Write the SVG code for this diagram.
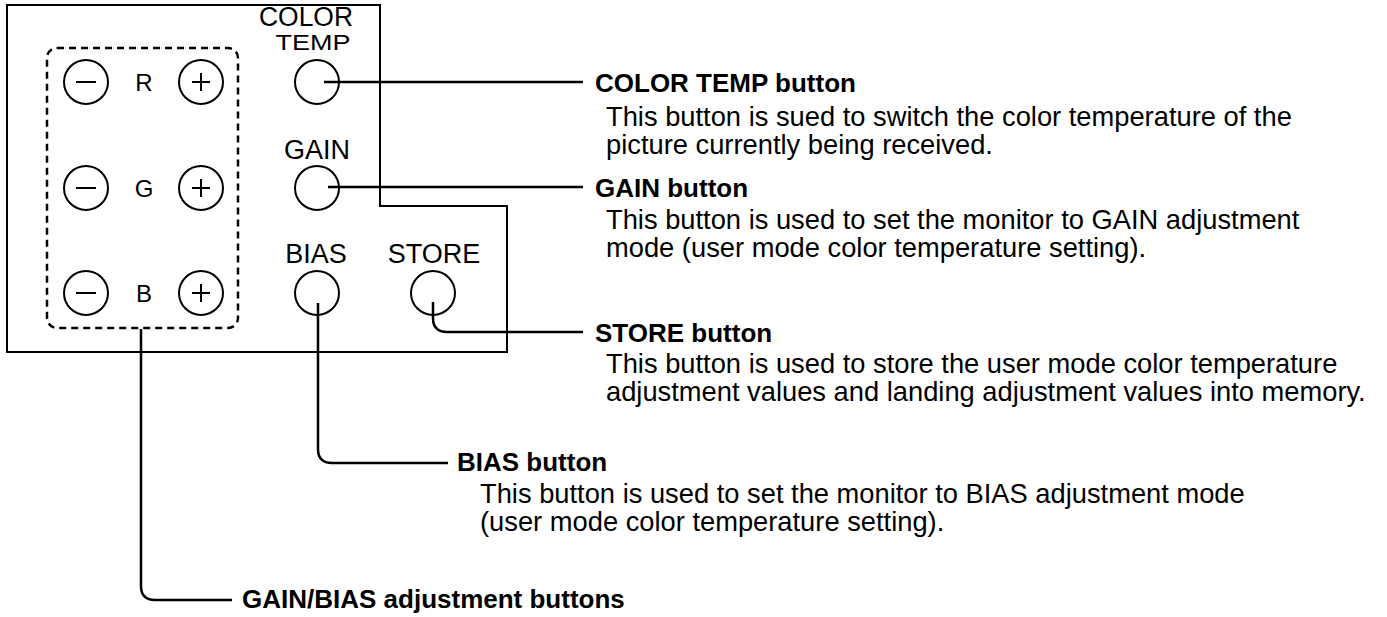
<svg xmlns="http://www.w3.org/2000/svg" width="1387" height="617" viewBox="0 0 1387 617">
<style>
.bg{fill:#fff}
.ln{fill:none;stroke:#000;stroke-width:2}
.cn{fill:none;stroke:#000;stroke-width:2.5}
.btn{fill:none;stroke:#000;stroke-width:2}
.dash{fill:none;stroke:#000;stroke-width:2.5;stroke-dasharray:7 5}
.lbl{font-family:"Liberation Sans",Arial,sans-serif;font-size:27px;fill:#000;text-anchor:middle}
.rgb{font-family:"Liberation Sans",Arial,sans-serif;font-size:24px;fill:#000;text-anchor:middle}
.ttl{font-family:"Liberation Sans",Arial,sans-serif;font-size:26px;font-weight:bold;fill:#000}
.bdy{font-family:"Liberation Sans",Arial,sans-serif;font-size:27.3px;fill:#000}
</style>
<rect class="bg" x="0" y="0" width="1387" height="617"/>

<g id="panel">
<path class="ln" d="M7,5 H380 V206 H507 V352 H7 Z"/>
</g>

<g id="rgb-group">
<rect class="dash" x="47" y="48" width="191" height="280" rx="10" ry="10"/>
<g id="r-row">
<circle class="btn" cx="86" cy="82" r="22"/>
<line class="btn" x1="76" y1="82" x2="96" y2="82"/>
<text class="rgb" x="144" y="91">R</text>
<circle class="btn" cx="201" cy="82" r="22"/>
<line class="btn" x1="192" y1="82" x2="210" y2="82"/>
<line class="btn" x1="201" y1="73" x2="201" y2="91"/>
</g>
<g id="g-row">
<circle class="btn" cx="86" cy="188" r="22"/>
<line class="btn" x1="76" y1="188" x2="96" y2="188"/>
<text class="rgb" x="144" y="197">G</text>
<circle class="btn" cx="201" cy="188" r="22"/>
<line class="btn" x1="192" y1="188" x2="210" y2="188"/>
<line class="btn" x1="201" y1="179" x2="201" y2="197"/>
</g>
<g id="b-row">
<circle class="btn" cx="86" cy="293" r="22"/>
<line class="btn" x1="76" y1="293" x2="96" y2="293"/>
<text class="rgb" x="144" y="302">B</text>
<circle class="btn" cx="201" cy="293" r="22"/>
<line class="btn" x1="192" y1="293" x2="210" y2="293"/>
<line class="btn" x1="201" y1="284" x2="201" y2="302"/>
</g>
</g>

<g id="color-temp">
<text class="lbl" x="306" y="26" font-size="25" textLength="94" lengthAdjust="spacingAndGlyphs">COLOR</text>
<text class="lbl" transform="translate(313,49.5) scale(1,0.8)" x="0" y="0" font-size="25">TEMP</text>
<circle class="btn" cx="317" cy="82" r="22"/>
</g>
<g id="gain">
<text class="lbl" x="317" y="159">GAIN</text>
<circle class="btn" cx="317" cy="188" r="22"/>
</g>
<g id="bias">
<text class="lbl" x="316" y="263">BIAS</text>
<circle class="btn" cx="317" cy="293" r="22"/>
</g>
<g id="store">
<text class="lbl" x="434" y="263">STORE</text>
<circle class="btn" cx="433" cy="293" r="22"/>
</g>

<g id="connectors">
<path class="cn" d="M324,82 H583"/>
<path class="cn" d="M328,187 H583"/>
<path class="cn" d="M433,302 V318 Q433,332 447,332 H583"/>
<path class="cn" d="M318,303 V449 Q318,463 332,463 H448"/>
<path class="cn" d="M141,329 V586 Q141,600 155,600 H232"/>
</g>

<g id="desc-color-temp">
<text class="ttl" x="595" y="92">COLOR TEMP button</text>
<text class="bdy" x="606" y="126">This button is sued to switch the color temperature of the</text>
<text class="bdy" x="606" y="154">picture currently being received.</text>
</g>
<g id="desc-gain">
<text class="ttl" x="595" y="197">GAIN button</text>
<text class="bdy" x="606" y="229">This button is used to set the monitor to GAIN adjustment</text>
<text class="bdy" x="606" y="257">mode (user mode color temperature setting).</text>
</g>
<g id="desc-store">
<text class="ttl" x="595" y="342">STORE button</text>
<text class="bdy" x="606" y="373">This button is used to store the user mode color temperature</text>
<text class="bdy" x="606" y="401">adjustment values and landing adjustment values into memory.</text>
</g>
<g id="desc-bias">
<text class="ttl" x="457" y="471">BIAS button</text>
<text class="bdy" x="480" y="503">This button is used to set the monitor to BIAS adjustment mode</text>
<text class="bdy" x="480" y="531">(user mode color temperature setting).</text>
</g>
<g id="desc-gainbias">
<text class="ttl" x="242" y="608">GAIN/BIAS adjustment buttons</text>
</g>
</svg>
